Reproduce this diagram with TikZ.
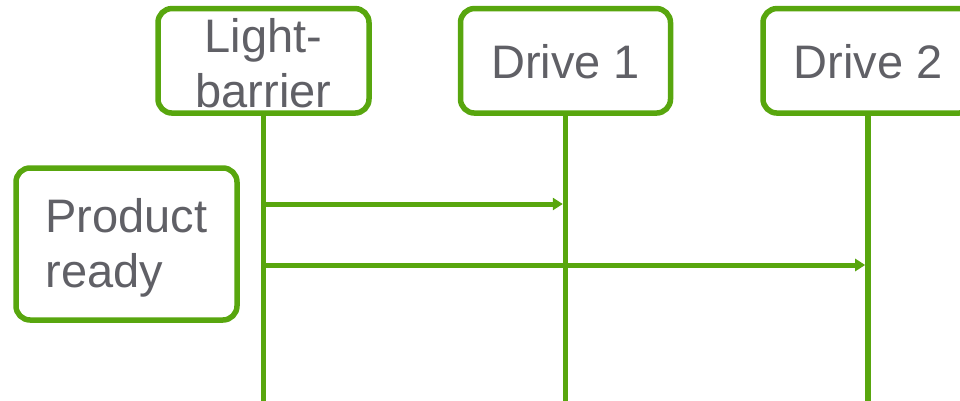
\documentclass[tikz,border=0pt]{standalone}
\usepackage{fontspec}
\setmainfont{Liberation Sans}
\usetikzlibrary{arrows.meta}
\definecolor{grn}{HTML}{58A60E}
\definecolor{txtgray}{HTML}{606066}
\begin{document}
\begin{tikzpicture}[x=1pt,y=-1pt,
  box/.style={draw=grn,line width=5.5pt,rounded corners=14pt,fill=white,inner sep=0pt},
  lbl/.style={text=txtgray,font=\fontsize{47}{55}\selectfont,inner sep=0pt},
  life/.style={draw=grn,line width=5.5pt},
  msg/.style={draw=grn,line width=5pt,-{Triangle[length=10pt,width=12pt]}}]
\useasboundingbox (0,0) rectangle (960,401);
\clip (0,0) rectangle (960,401);
% boxes
\node[box,minimum width=211pt,minimum height=104.5pt] (lb) at (263.5,60.8) {};
\node[box,minimum width=210pt,minimum height=104.5pt] (d1) at (565.5,60.8) {};
\node[box,minimum width=210pt,minimum height=104.5pt] (d2) at (868,60.8) {};
\node[box,minimum width=221pt,minimum height=152pt] (pr) at (126.5,244) {};
% texts
\node[lbl,align=center] (lbt) at (263.5,63) {Light-\\barrier};
\node[lbl] (d1t) at (565.5,62) {Drive 1};
\node[lbl] (d2t) at (868,62) {Drive 2};
\node[lbl,align=left] (prt) at (126.5,247.5) {Product\\ready};
% lifelines
\coordinate (lbe) at (263.5,405);
\coordinate (d1e) at (565.5,405);
\coordinate (d2e) at (868,405);
\draw[life] (lb.south) -- (lbe);
\draw[life] (d1.south) -- (d1e);
\draw[life] (d2.south) -- (d2e);
% messages
\coordinate (m1s) at (263.5,204);
\coordinate (m1e) at (562.8,204);
\coordinate (m2s) at (263.5,265);
\coordinate (m2e) at (865.2,265);
\draw[msg] (m1s) -- (m1e);
\draw[msg] (m2s) -- (m2e);
\end{tikzpicture}
\end{document}
